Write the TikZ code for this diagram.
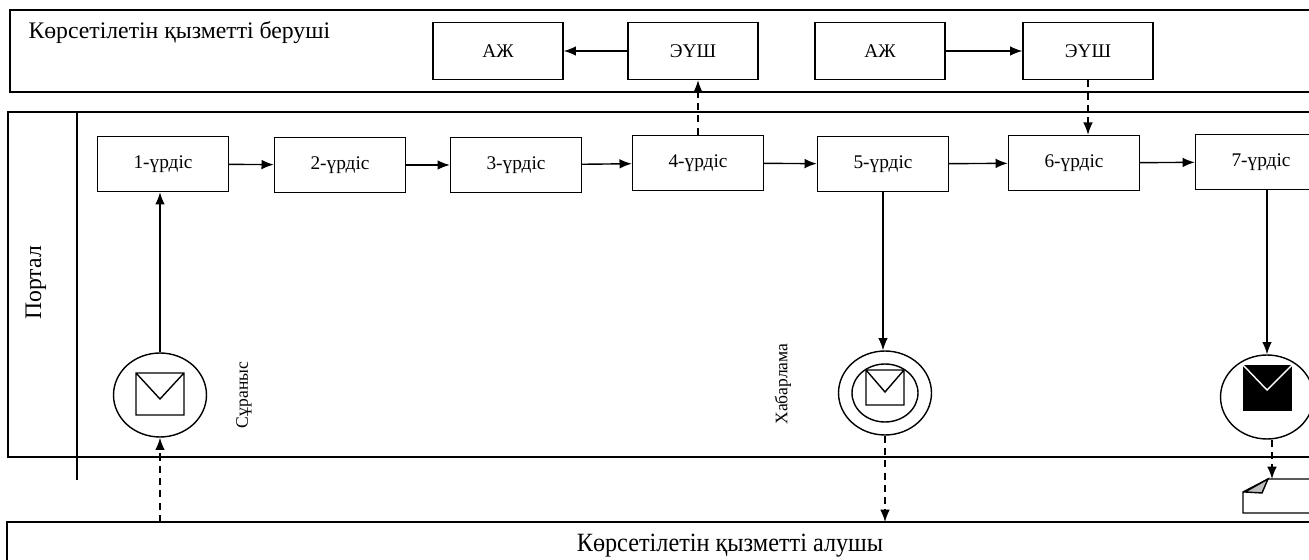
\documentclass[tikz,border=0pt]{standalone}
\usepackage{fontspec}
\setmainfont{Liberation Serif}
\usetikzlibrary{arrows,arrows.meta,positioning,shapes}

\begin{document}
\begin{tikzpicture}[x=0.02cm,y=-0.02cm,line width=0.8pt,>={Latex[length=7pt,width=5.5pt]},
	proc/.style={draw,minimum width=2.62cm,minimum height=1.1cm,font=\fontsize{11}{13}\selectfont},
	sys/.style={draw,minimum width=2.6cm,minimum height=1.14cm,font=\fontsize{11}{13}\selectfont},
	ev/.style={draw,ellipse,minimum width=1.86cm,minimum height=1.68cm,inner sep=0pt},
	msg/.style={dash pattern=on 4pt off 3pt},
	vlabel/.style={rotate=90,font=\fontsize{10}{12}\selectfont}]
		\useasboundingbox (0,0) rectangle (1309,560);
		\clip (0,0) rectangle (1309,560);
		% lanes
		\draw (1309,10) -- (10,10) -- (10,92) -- (1309,92);
		\draw (1309,112) -- (8,112) -- (8,457) -- (1309,457);
		\draw (77,112) -- (77,480);
		\draw (1309,522) -- (7,522) -- (7,560);
		\node[anchor=west,font=\fontsize{13.5}{15}\selectfont] (giver) at (22,33) {Көрсетілетін қызметті беруші};
		\node[rotate=90,font=\fontsize{13.5}{15}\selectfont] (portal) at (36,283) {Портал};
		\node[font=\fontsize{15}{17}\selectfont] (taker) at (730,546) {\scalebox{0.92}[1]{Көрсетілетін қызметті алушы}};
		% system boxes
		\node[sys] (aj1) at (498,51) {АЖ};
		\node[sys] (eus1) at (693,51) {ЭҮШ};
		\node[sys] (aj2) at (880,51) {АЖ};
		\node[sys] (eus2) at (1088,51) {ЭҮШ};
		% process steps
		\node[proc] (p1) at (163,164) {1-үрдіс};
		\node[proc] (p2) at (340,165) {2-үрдіс};
		\node[proc] (p3) at (516,165) {3-үрдіс};
		\node[proc] (p4) at (698,163) {4-үрдіс};
		\node[proc] (p5) at (883,164) {5-үрдіс};
		\node[proc] (p6) at (1074,163) {6-үрдіс};
		\node[proc] (p7) at (1261,162) {7-үрдіс};
		\foreach \a/\b in {p1/p2, p2/p3, p3/p4, p4/p5, p5/p6, p6/p7}
			\draw[->] (\a) -- (\b);
		\draw[->] (eus1) -- (aj1);
		\draw[->] (aj2) -- (eus2);
		\draw[->,msg] (p4.north) -- (p4.north |- eus1.south);
		\draw[->,msg] (eus2.south) -- (eus2.south |- p6.north);
		% events
		\node[ev] (ev1) at (160,395) {};
		\node[ev] (ev5) at (885,393) {};
		\node[ev] (ev7) at (1267,397) {};
		\draw (ev5) ellipse [x radius=0.66cm, y radius=0.58cm];
		\draw[shift={(ev1.center)}] (-24,-22) rectangle (24,20) (-24,-22) -- (0,4) -- (24,-22);
		\draw[shift={(ev5.center)}] (-19,-23) rectangle (19,12) (-19,-23) -- (0,-1) -- (19,-23);
		\fill[shift={(ev7.center)}] (-24,-32) rectangle (25,14);
		\draw[white,shift={(ev7.center)}] (-24,-32) -- (0,-7) -- (25,-32);
		\node[vlabel] (req) at (244,395) {Сұраныс};
		\node[vlabel] (note) at (783,384) {Хабарлама};
		% document
		\coordinate (docin) at (1272,479);
		\draw (1309,479) -- (1268,479) -- (1243,492) -- (1243,513) -- (1309,513);
		\draw[fill=gray!50] (1268,479) -- (1262,493) -- (1245,492) -- cycle;
		% flows
		\coordinate (in1) at (160,522);
		\coordinate (out5) at (885,522);
		\draw[->] (ev1.north) -- (ev1.north |- p1.south);
		\draw[->,msg] (in1) -- (ev1.south);
		\draw[->] (p5.south) -- (p5.south |- ev5.north);
		\draw[->,msg] (ev5.south) -- (out5);
		\draw[->] (p7.south -| ev7.north) -- (ev7.north);
		\draw[->,msg] (ev7.south -| docin) -- (docin);
\end{tikzpicture}
\end{document}
